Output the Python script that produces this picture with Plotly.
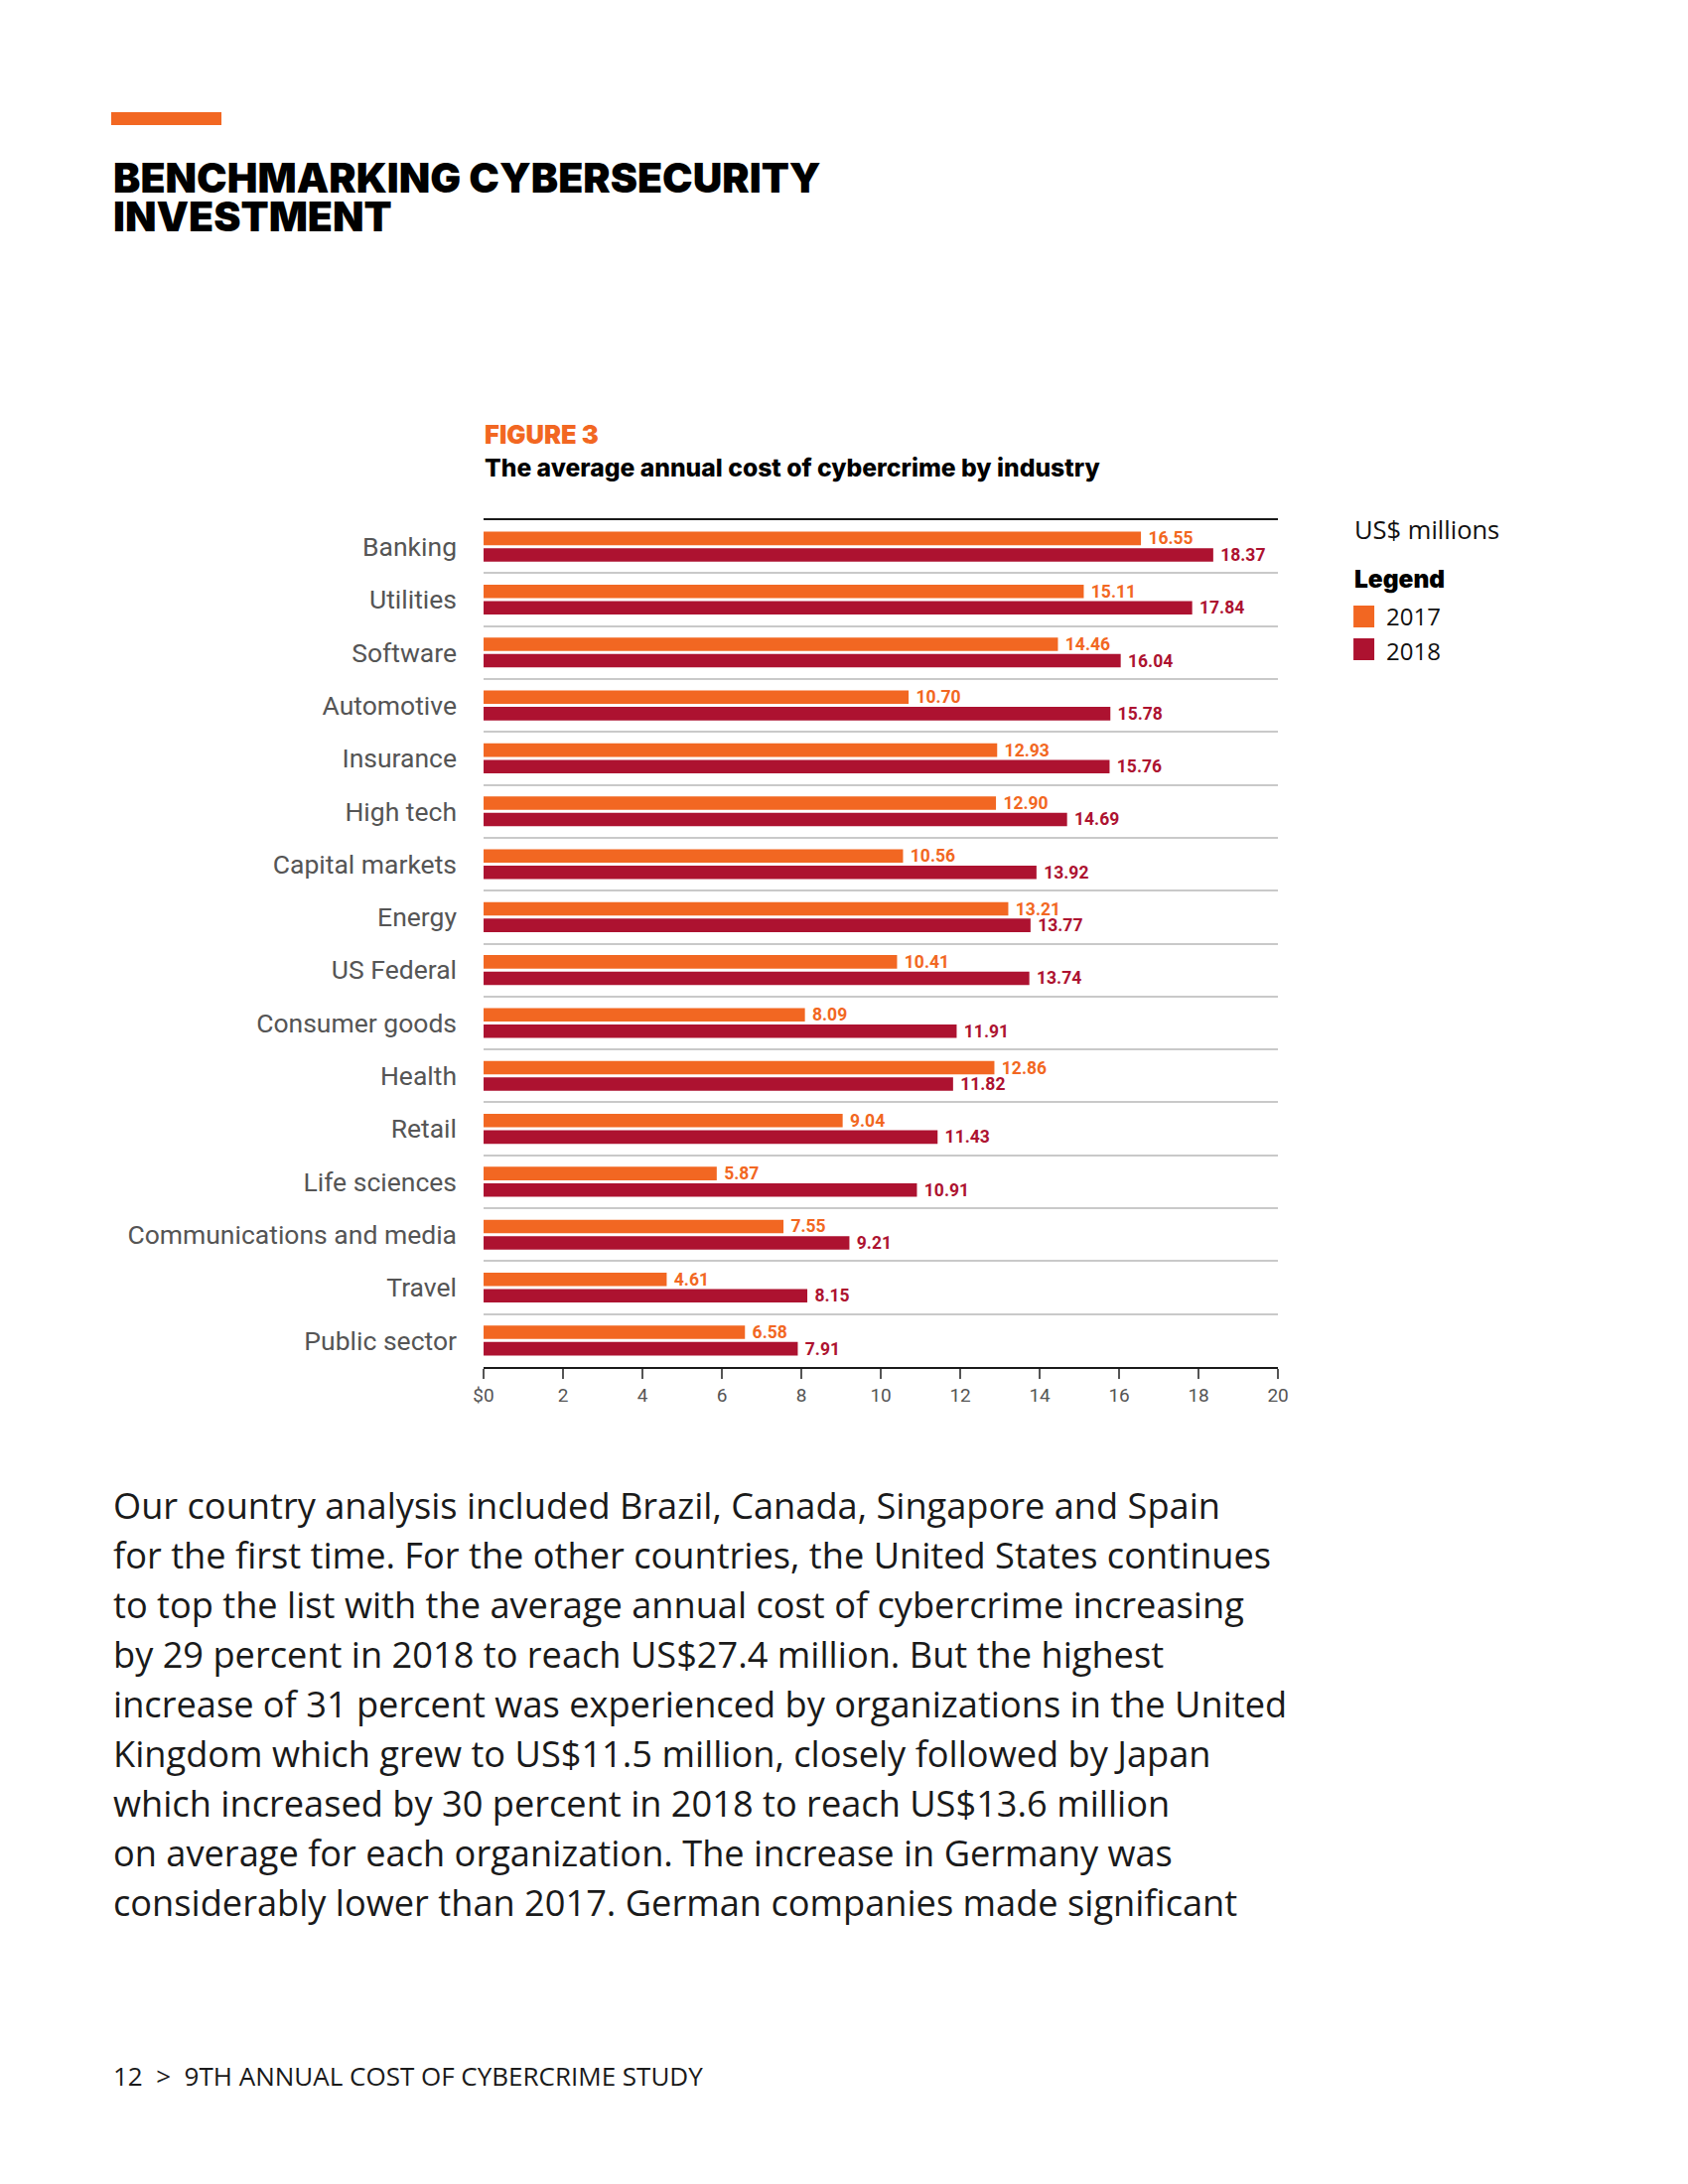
import plotly.graph_objects as go

industries = ["Banking", "Utilities", "Software", "Automotive", "Insurance", "High tech",
              "Capital markets", "Energy", "US Federal", "Consumer goods", "Health", "Retail",
              "Life sciences", "Communications and media", "Travel", "Public sector"]
cost_2017 = [16.55, 15.11, 14.46, 10.70, 12.93, 12.90, 10.56, 13.21, 10.41, 8.09, 12.86, 9.04,
             5.87, 7.55, 4.61, 6.58]
cost_2018 = [18.37, 17.84, 16.04, 15.78, 15.76, 14.69, 13.92, 13.77, 13.74, 11.91, 11.82, 11.43,
             10.91, 9.21, 8.15, 7.91]
tick_vals = [0, 2, 4, 6, 8, 10, 12, 14, 16, 18, 20]
tick_text = ["$0", "2", "4", "6", "8", "10", "12", "14", "16", "18", "20"]
series_names = ["2017", "2018"]
body_lines = [
    "Our country analysis included Brazil, Canada, Singapore and Spain",
    "for the first time. For the other countries, the United States continues",
    "to top the list with the average annual cost of cybercrime increasing",
    "by 29 percent in 2018 to reach US$27.4 million. But the highest",
    "increase of 31 percent was experienced by organizations in the United",
    "Kingdom which grew to US$11.5 million, closely followed by Japan",
    "which increased by 30 percent in 2018 to reach US$13.6 million",
    "on average for each organization. The increase in Germany was",
    "considerably lower than 2017. German companies made significant",
]

ORANGE = "#F26722"
RED = "#AD1230"
W, H = 1700, 2200


def px_x(x):
    # page-pixel target -> paper fraction (compensates page offset)
    return ((x - 19) / 0.987) / W


def px_y(y):
    return 1 - (y - 7) / H


fig = go.Figure()
for name, vals, col in [(series_names[0], cost_2017, ORANGE), (series_names[1], cost_2018, RED)]:
    fig.add_trace(go.Bar(
        y=industries, x=vals, name=name, orientation="h",
        marker=dict(color=col, line=dict(width=0)),
        text=vals, texttemplate="\u00a0%{x:.2f}", textposition="outside",
        textfont=dict(family="Roboto", size=17.5, color=col, weight="bold"),
        constraintext="none", cliponaxis=False, showlegend=False,
        hoverinfo="skip",
    ))

fig.update_layout(
    width=W, height=H,
    margin=dict(l=0, r=0, t=0, b=0),
    paper_bgcolor="white", plot_bgcolor="white",
    barmode="group", bargap=0.38, bargroupgap=0.18,
    font=dict(family="Roboto", color="#222"),
    xaxis=dict(
        domain=[px_x(487), px_x(1287)], range=[0, 20],
        tickvals=tick_vals, ticktext=tick_text,
        showgrid=False, zeroline=False,
        showline=True, linecolor="#1a1a1a", linewidth=2, mirror=True,
        ticks="outside", ticklen=10, tickwidth=1.5, tickcolor="#555",
        tickfont=dict(family="Roboto", size=19, color="#555"),
        fixedrange=True,
    ),
    yaxis=dict(
        domain=[px_y(1376), px_y(523)],
        autorange="reversed", type="category",
        tickson="boundaries", ticks="", showgrid=True,
        gridcolor="#C9C9C9", gridwidth=2,
        showline=False, zeroline=False,
        tickfont=dict(family="Roboto", size=26.5, color="#555"),
        ticklabelstandoff=26,
        fixedrange=True,
    ),
)

ann = []
# headline
ann.append(dict(x=px_x(112), y=px_y(178), text="BENCHMARKING CYBERSECURITY",
                font=dict(family="Inter", size=41, color="#000", weight=900)))
ann.append(dict(x=px_x(112), y=px_y(217), text="INVESTMENT",
                font=dict(family="Inter", size=41, color="#000", weight=900)))
# figure titles
ann.append(dict(x=px_x(486), y=px_y(436), text="FIGURE 3",
                font=dict(family="Inter", size=25.5, color=ORANGE, weight=900)))
ann.append(dict(x=px_x(486), y=px_y(470), text="The average annual cost of cybercrime by industry",
                font=dict(family="Inter", size=24.7, color="#000", weight=800)))
# legend-side texts
ann.append(dict(x=px_x(1362), y=px_y(532), text="US$ millions",
                font=dict(family="Open Sans", size=25.5, color="#111")))
ann.append(dict(x=px_x(1362), y=px_y(582), text="Legend",
                font=dict(family="Inter", size=24.5, color="#000", weight=900)))
ann.append(dict(x=px_x(1394), y=px_y(620), text=series_names[0],
                font=dict(family="Open Sans", size=24, color="#111")))
ann.append(dict(x=px_x(1394), y=px_y(654), text=series_names[1],
                font=dict(family="Open Sans", size=24, color="#111")))
# body text
for i, line in enumerate(body_lines):
    ann.append(dict(x=px_x(112), y=px_y(1515 + i * 50), text=line,
                    font=dict(family="Open Sans", size=36.2, color="#1a1a1a")))
# footer
ann.append(dict(x=px_x(112), y=px_y(2090), text="12  &gt;  9TH ANNUAL COST OF CYBERCRIME STUDY",
                font=dict(family="Open Sans", size=26, color="#1a1a1a")))

for a in ann:
    a.update(xref="paper", yref="paper", xanchor="left", yanchor="middle",
             showarrow=False, align="left")
fig.update_layout(annotations=ann)

shapes = [
    dict(type="rect", xref="paper", yref="paper", x0=px_x(112), x1=px_x(223),
         y0=px_y(125), y1=px_y(112), fillcolor=ORANGE, line=dict(width=0)),
    dict(type="rect", xref="paper", yref="paper", x0=px_x(1363), x1=px_x(1384),
         y0=px_y(631), y1=px_y(609), fillcolor=ORANGE, line=dict(width=0)),
    dict(type="rect", xref="paper", yref="paper", x0=px_x(1363), x1=px_x(1384),
         y0=px_y(664), y1=px_y(642), fillcolor=RED, line=dict(width=0)),
]
fig.update_layout(shapes=shapes)

fig.write_html("out.html")
